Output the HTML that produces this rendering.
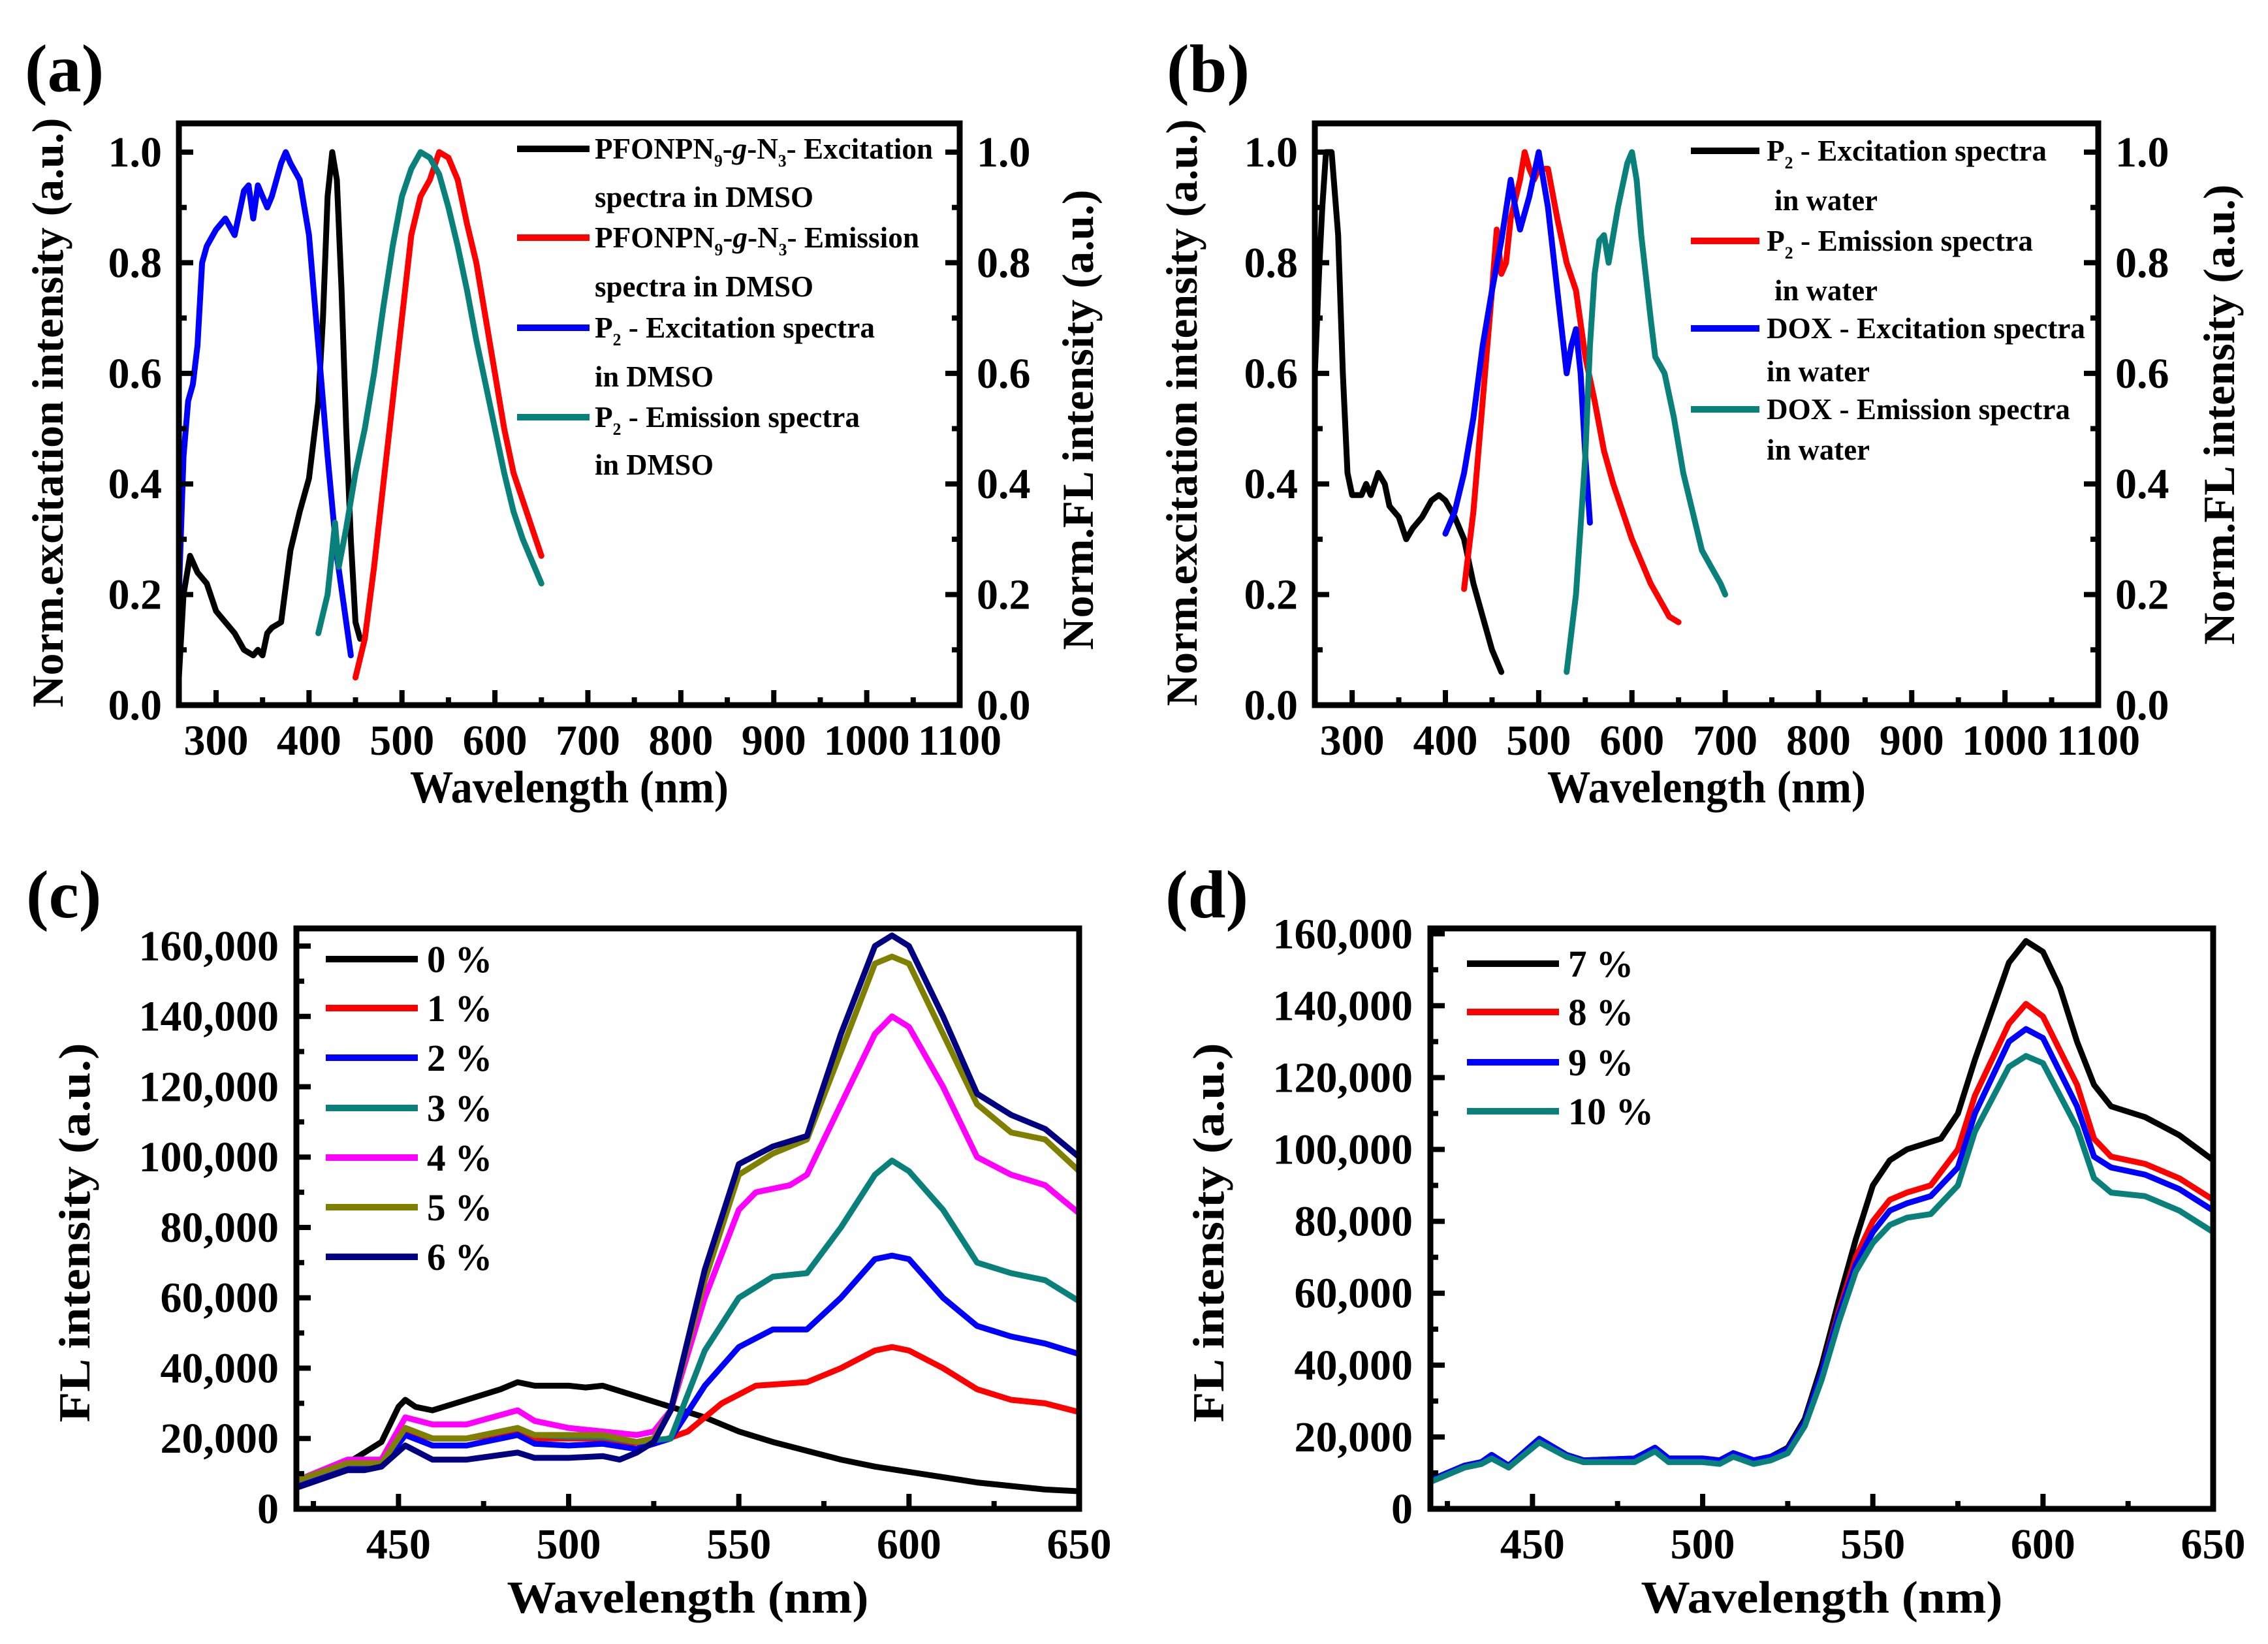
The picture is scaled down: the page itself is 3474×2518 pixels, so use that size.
<!DOCTYPE html>
<html><head><meta charset="utf-8"><style>
html,body{margin:0;padding:0;background:#fff;}
svg{display:block;font-family:"Liberation Serif","DejaVu Serif",serif;font-weight:bold;}
</style></head><body>
<svg id="fig" xmlns="http://www.w3.org/2000/svg" width="3474" height="2518" viewBox="0 0 3474 2518">
<rect x="0" y="0" width="3474" height="2518" fill="#fff"/>
</svg>
<script>
// ---------- Panel (a) data ----------
const aBlackX=[260,265,272,280,290,300,310,320,330,340,345,350,355,360,370,380,390,400,410,415,420,425,430,435,440,445,450,455];
const aBlackY=[0.05,0.2,0.27,0.24,0.22,0.17,0.15,0.13,0.1,0.09,0.1,0.09,0.13,0.14,0.15,0.28,0.35,0.41,0.55,0.7,0.92,1.0,0.95,0.75,0.5,0.3,0.15,0.12];
const aBlueX=[260,265,270,275,280,285,290,300,310,320,330,335,340,345,350,355,360,365,370,375,380,390,400,410,420,430,440,445];
const aBlueY=[0.2,0.45,0.55,0.58,0.65,0.8,0.83,0.86,0.88,0.85,0.93,0.94,0.88,0.94,0.92,0.9,0.92,0.95,0.98,1.0,0.98,0.95,0.85,0.65,0.45,0.27,0.15,0.09];
const aRedX=[450,460,470,480,490,500,510,520,530,540,550,560,570,580,590,600,610,620,630,640,650];
const aRedY=[0.05,0.12,0.25,0.4,0.55,0.7,0.85,0.92,0.95,1.0,0.99,0.95,0.87,0.8,0.7,0.6,0.5,0.42,0.37,0.32,0.27];
const aTealX=[410,420,425,428,432,440,450,460,470,480,490,500,510,520,530,540,550,560,570,580,590,600,610,620,630,640,650];
const aTealY=[0.13,0.2,0.28,0.33,0.25,0.32,0.42,0.5,0.6,0.72,0.83,0.92,0.97,1.0,0.99,0.96,0.9,0.83,0.75,0.66,0.58,0.5,0.42,0.35,0.3,0.26,0.22];
// ---------- Panel (b) data ----------
const bBlackX=[260,265,268,272,278,285,290,295,300,310,315,320,328,335,340,350,358,365,375,385,393,400,410,420,430,440,450,460];
const bBlackY=[0.6,0.8,0.9,1.0,1.0,0.85,0.6,0.42,0.38,0.38,0.4,0.38,0.42,0.4,0.36,0.34,0.3,0.32,0.34,0.37,0.38,0.37,0.34,0.3,0.22,0.16,0.1,0.06];
const bRedX=[420,430,440,450,455,460,465,470,480,485,490,495,500,510,520,530,540,550,560,570,580,590,600,610,620,630,640,650];
const bRedY=[0.21,0.35,0.55,0.75,0.86,0.78,0.8,0.88,0.95,1.0,0.97,0.95,0.97,0.97,0.88,0.8,0.75,0.63,0.55,0.46,0.4,0.35,0.3,0.26,0.22,0.19,0.16,0.15];
const bBlueX=[400,410,420,430,440,450,460,470,475,480,490,500,510,520,530,535,540,545,550,555];
const bBlueY=[0.31,0.35,0.42,0.52,0.65,0.75,0.84,0.95,0.9,0.86,0.92,1.0,0.9,0.75,0.6,0.65,0.68,0.6,0.45,0.33];
const bTealX=[530,540,550,555,560,565,570,575,580,585,595,600,605,610,620,625,635,645,655,665,675,685,695,700];
const bTealY=[0.06,0.2,0.45,0.65,0.78,0.84,0.85,0.8,0.85,0.9,0.98,1.0,0.95,0.85,0.7,0.63,0.6,0.52,0.42,0.35,0.28,0.25,0.22,0.2];
// ---------- Panel (c) data ----------
const c0X=[420,430,440,445,450,452,455,460,470,480,485,490,500,505,510,520,530,540,550,560,570,580,590,600,610,620,630,640,650];
const c0Y=[7000,10000,16000,19000,29000,31000,29000,28000,31000,34000,36000,35000,35000,34500,35000,32000,29000,26000,22000,19000,16500,14000,12000,10500,9000,7500,6500,5500,5000];
const c1X=[420,435,445,452,460,470,485,490,500,510,515,525,535,545,555,570,580,590,595,600,610,620,630,640,650];
const c1Y=[8000,13000,13000,22000,20000,20000,22000,20000,20000,20000,19000,18500,22000,30000,35000,36000,40000,45000,46000,45000,40000,34000,31000,30000,27500];
const c2X=[420,435,445,452,460,470,485,490,500,510,520,530,540,550,560,570,580,590,595,600,610,620,630,640,650];
const c2Y=[7000,12000,12000,21000,18000,18000,21000,18500,18000,18500,17000,20000,35000,46000,51000,51000,60000,71000,72000,71000,60000,52000,49000,47000,44000];
const c3X=[420,435,445,452,460,470,485,490,500,510,520,530,540,550,560,570,580,590,595,600,610,620,630,640,650];
const c3Y=[8000,13000,13000,23000,20000,20000,23000,21000,20500,20500,19000,20000,45000,60000,66000,67000,80000,95000,99000,96000,85000,70000,67000,65000,59000];
const c4X=[420,435,445,452,460,470,485,490,500,510,520,525,530,540,550,555,565,570,580,590,595,600,610,620,630,640,645,650];
const c4Y=[8000,14000,14000,26000,24000,24000,28000,25000,23000,22000,21000,22000,28000,60000,85000,90000,92000,95000,115000,135000,140000,137000,120000,100000,95000,92000,88000,84000];
const c5X=[420,435,445,452,460,470,485,490,500,510,520,525,530,540,550,560,570,580,590,595,600,610,620,630,640,650];
const c5Y=[8000,13000,13000,23000,20000,20000,23000,21000,21000,21000,19000,20000,28000,65000,95000,101000,105000,130000,155000,157000,155000,135000,115000,107000,105000,96000];
const c6X=[420,435,440,445,452,460,470,485,490,500,510,515,520,525,530,540,550,560,570,580,590,595,600,610,620,630,640,650];
const c6Y=[6000,11000,11000,12000,18000,14000,14000,16000,14500,14500,15000,14000,16000,19000,28000,68000,98000,103000,106000,135000,160000,163000,160000,140000,118000,112000,108000,100000];
// ---------- Panel (d) data ----------
const d7X=[420,430,435,438,443,452,460,465,480,486,490,500,505,509,515,520,525,530,535,540,545,550,555,560,570,575,580,590,595,600,605,610,615,620,630,640,650];
const d7Y=[8000,12000,13000,15000,12000,19500,15000,13500,14000,17000,14000,14000,13500,15500,13500,14500,17000,25000,40000,58000,75000,90000,97000,100000,103000,110000,125000,152000,158000,155000,145000,130000,118000,112000,109000,104000,97000];
const d8X=[420,430,435,438,443,452,460,465,480,486,490,500,505,509,515,520,525,530,535,540,545,550,555,560,567,575,580,590,595,600,610,615,620,630,640,650];
const d8Y=[7500,11500,12500,14500,11500,19000,14500,13000,13500,16500,13500,13500,13000,15000,13000,14000,16500,24000,38000,55000,70000,80000,86000,88000,90000,100000,115000,135000,140500,137000,118000,103000,98000,96000,92000,86000];
const d9X=d8X;
const d9Y=[8000,12000,13000,15000,12000,19500,15000,13500,14000,17000,14000,14000,13500,15500,13500,14500,16500,24000,38000,54000,68000,77000,83000,85000,87000,95000,110000,130000,133500,131000,112000,98000,95000,93000,89000,83000];
const d10X=d8X;
const d10Y=[7500,11500,12500,14000,11500,18500,14500,13000,13000,16000,13000,13000,12500,14500,12500,13500,15500,23000,36000,52000,66000,74000,79000,81000,82000,90000,105000,123000,126000,124000,106000,92000,88000,87000,83000,77000];

// ---------- tick labels ----------
const normTicks=[0,0.2,0.4,0.6,0.8,1.0];
const normTickLabels=["0.0","0.2","0.4","0.6","0.8","1.0"];
const wlTicksAB=[300,400,500,600,700,800,900,1000,1100];
const wlTicksCD=[450,500,550,600,650];
const flTicks=[0,20000,40000,60000,80000,100000,120000,140000,160000];
const flTickLabels=["0","20,000","40,000","60,000","80,000","100,000","120,000","140,000","160,000"];

const NS="http://www.w3.org/2000/svg";
const svg=document.getElementById('fig');
function el(tag,attrs,parent){const e=document.createElementNS(NS,tag);for(const k in attrs)e.setAttribute(k,attrs[k]);(parent||svg).appendChild(e);return e;}
function txt(str,x,y,size,anchor,parent,extra){const t=el('text',Object.assign({x:x,y:y,'font-size':size,'text-anchor':anchor||'start',fill:'#000'},extra||{}),parent);t.textContent=str;return t;}

function panel(cfg){
  const g=el('g',{});
  
  
  const sx=v=>cfg.L+(v-cfg.xmin)/(cfg.xmax-cfg.xmin)*(cfg.R-cfg.L);
  const sy=v=>cfg.B-(v-cfg.ymin)/(cfg.ymax-cfg.ymin)*(cfg.B-cfg.T);
  // series
  const sg=el('g',{},g);
  const cp='clip-'+cfg.id;
  const defs=el('defs',{},g);const c=el('clipPath',{id:cp},defs);
  el('rect',{x:cfg.L,y:cfg.T,width:cfg.R-cfg.L,height:cfg.B-cfg.T},c);
  sg.setAttribute('clip-path','url(#'+cp+')');
  cfg.series.forEach(s=>{
    const d=s.x.map((v,i)=>(i?'L':'M')+sx(v).toFixed(1)+','+sy(s.y[i]).toFixed(1)).join('');
    const p=el('path',{d:d,fill:'none',stroke:s.color,'stroke-width':9,'stroke-linejoin':'round','stroke-linecap':'round'},sg);
    
    
  });
  // frame
  const fr=el('rect',{x:cfg.L,y:cfg.T,width:cfg.R-cfg.L,height:cfg.B-cfg.T,fill:'none',stroke:'#000','stroke-width':9},g);
  
  
  // x ticks
  cfg.xTicks.forEach(v=>{
    el('line',{x1:sx(v),x2:sx(v),y1:cfg.B,y2:cfg.B-23,stroke:'#000','stroke-width':8},g);
    const t=txt(String(v),sx(v),cfg.B+76,66,'middle',g);
    
    
  });
  cfg.xTicks.forEach((v,i)=>{const m=v-cfg.xStep/2;if(m>cfg.xmin)el('line',{x1:sx(m),x2:sx(m),y1:cfg.B,y2:cfg.B-12,stroke:'#000','stroke-width':8},g);});
  // y ticks
  cfg.yTicks.forEach((v,i)=>{
    el('line',{x1:cfg.L,x2:cfg.L+22,y1:sy(v),y2:sy(v),stroke:'#000','stroke-width':8},g);
    const t=txt(cfg.yLabels[i],cfg.L-cfg.yLabOff,sy(v)+22,66,'end',g);
    
    
    if(cfg.right){
      el('line',{x1:cfg.R,x2:cfg.R-22,y1:sy(v),y2:sy(v),stroke:'#000','stroke-width':8},g);
      const t2=txt(cfg.yLabels[i],cfg.R+26,sy(v)+22,66,'start',g);
      
      
    }
    const m=v+cfg.yStep/2;
    if(m<cfg.ymax){
      el('line',{x1:cfg.L,x2:cfg.L+12,y1:sy(m),y2:sy(m),stroke:'#000','stroke-width':8},g);
      if(cfg.right)el('line',{x1:cfg.R,x2:cfg.R-12,y1:sy(m),y2:sy(m),stroke:'#000','stroke-width':8},g);
    }
  });
  // titles
  const xt=txt('Wavelength (nm)',(cfg.L+cfg.R)/2,cfg.xtY,70,'middle',g,{textLength:cfg.xtW,lengthAdjust:'spacingAndGlyphs'});
  
  
  const yt=txt(cfg.ytText,0,0,68,'middle',g,{transform:'translate('+cfg.ytX+','+cfg.ytY+') rotate(-90)',textLength:cfg.ytW,lengthAdjust:'spacingAndGlyphs'});
  
  
  if(cfg.right){
    const rt=txt('Norm.FL intensity (a.u.)',0,0,68,'middle',g,{transform:'translate('+cfg.rtX+','+cfg.rtY+') rotate(-90)',textLength:705,lengthAdjust:'spacingAndGlyphs'});
    
    
  }
  const pl=txt(cfg.label,cfg.plX,cfg.plY,104,'start',g);
  
  
  // legend
  cfg.legend.forEach(it=>{
    if(it.line){
      const ln=el('line',{x1:it.lx1,x2:it.lx2,y1:it.ly,y2:it.ly,stroke:it.line,'stroke-width':10},g);
      
      
    }
    const t=el('text',{x:it.tx,y:it.ty,'font-size':it.fs,fill:'#000',textLength:it.w,lengthAdjust:'spacingAndGlyphs'},g);
    t.innerHTML=it.html;
    
    
  });
}

const sub=s=>'<tspan font-size="26" dy="12">'+s+'</tspan><tspan dy="-12">';
const legA=[
 {line:'#000',lx1:792,lx2:903,ly:228,tx:911,ty:243,fs:46,w:518,html:'PFONPN'+sub('9')+'-<tspan font-style="italic">g</tspan>-N'+sub('3')+'- Excitation</tspan></tspan>'},
 {tx:911,ty:317,fs:46,w:335,html:'spectra in DMSO'},
 {line:'#ff0000',lx1:792,lx2:903,ly:364,tx:911,ty:379,fs:46,w:497,html:'PFONPN'+sub('9')+'-<tspan font-style="italic">g</tspan>-N'+sub('3')+'- Emission</tspan></tspan>'},
 {tx:911,ty:454,fs:46,w:335,html:'spectra in DMSO'},
 {line:'#0000ff',lx1:792,lx2:903,ly:502,tx:911,ty:517,fs:46,w:429,html:'P'+sub('2')+' - Excitation spectra</tspan>'},
 {tx:911,ty:592,fs:46,w:182,html:'in DMSO'},
 {line:'#0a807a',lx1:792,lx2:903,ly:639,tx:911,ty:654,fs:46,w:406,html:'P'+sub('2')+' - Emission spectra</tspan>'},
 {tx:911,ty:727,fs:46,w:182,html:'in DMSO'}
];
const legB=[
 {line:'#000',lx1:2590,lx2:2695,ly:231,tx:2706,ty:246,fs:46,w:429,html:'P'+sub('2')+' - Excitation spectra</tspan>'},
 {tx:2718,ty:322,fs:46,w:158,html:'in water'},
 {line:'#ff0000',lx1:2590,lx2:2695,ly:369,tx:2706,ty:384,fs:46,w:408,html:'P'+sub('2')+' - Emission spectra</tspan>'},
 {tx:2718,ty:460,fs:46,w:158,html:'in water'},
 {line:'#0000ff',lx1:2590,lx2:2695,ly:503,tx:2706,ty:518,fs:46,w:488,html:'DOX - Excitation spectra'},
 {tx:2706,ty:584,fs:46,w:158,html:'in water'},
 {line:'#0a807a',lx1:2590,lx2:2695,ly:627,tx:2706,ty:642,fs:46,w:465,html:'DOX - Emission spectra'},
 {tx:2706,ty:704,fs:46,w:158,html:'in water'}
];
const cCols=['#000','#ff0000','#0000ff','#0a807a','#ff00ff','#808000','#000080'];
const cNames=['0 %','1 %','2 %','3 %','4 %','5 %','6 %'];
const cLineY=[1469,1544,1620,1697,1773,1849,1925];
const legC=cNames.map((n,i)=>({line:cCols[i],lx1:499,lx2:640,ly:cLineY[i],tx:654,ty:cLineY[i]+20,fs:58,w:100,html:n}));
const dCols=['#000','#ff0000','#0000ff','#0a807a'];
const dNames=['7 %','8 %','9 %','10 %'];
const dLineY=[1476,1550,1627,1702];
const legD=dNames.map((n,i)=>({line:dCols[i],lx1:2247,lx2:2388,ly:dLineY[i],tx:2402,ty:dLineY[i]+20,fs:58,w:(n.length>3?131:100),html:n}));

panel({id:'a',name:'panel-a-chart',label:'(a)',plX:38,plY:140,L:274,R:1470,T:189,B:1080,xmin:260,xmax:1100,ymin:0,ymax:1.052,
 xTicks:wlTicksAB,xStep:100,yTicks:normTicks,yLabels:normTickLabels,yStep:0.2,yLabOff:26,right:true,
 xtY:1229,xtW:488,ytText:'Norm.excitation intensity (a.u.)',ytX:96,ytY:632,ytW:903,rtX:1674,rtY:643,
 series:[{name:'pfonpn-excitation-line',x:aBlackX,y:aBlackY,color:'#000'},{name:'pfonpn-emission-line',x:aRedX,y:aRedY,color:'#ff0000'},
 {name:'p2-excitation-line',x:aBlueX,y:aBlueY,color:'#0000ff'},{name:'p2-emission-line',x:aTealX,y:aTealY,color:'#0a807a'}],legend:legA});
panel({id:'b',name:'panel-b-chart',label:'(b)',plX:1787,plY:140,L:2014,R:3214,T:189,B:1080,xmin:260,xmax:1100,ymin:0,ymax:1.052,
 xTicks:wlTicksAB,xStep:100,yTicks:normTicks,yLabels:normTickLabels,yStep:0.2,yLabOff:26,right:true,
 xtY:1229,xtW:488,ytText:'Norm.excitation intensity (a.u.)',ytX:1833,ytY:632,ytW:899,rtX:3422,rtY:635,
 series:[{name:'p2-water-excitation-line',x:bBlackX,y:bBlackY,color:'#000'},{name:'p2-water-emission-line',x:bRedX,y:bRedY,color:'#ff0000'},
 {name:'dox-excitation-line',x:bBlueX,y:bBlueY,color:'#0000ff'},{name:'dox-emission-line',x:bTealX,y:bTealY,color:'#0a807a'}],legend:legB});
const cX=[c0X,c1X,c2X,c3X,c4X,c5X,c6X], cY=[c0Y,c1Y,c2Y,c3Y,c4Y,c5Y,c6Y];
panel({id:'c',name:'panel-c-chart',label:'(c)',plX:40,plY:1405,L:454,R:1653,T:1422,B:2311,xmin:420,xmax:650,ymin:0,ymax:165000,
 xTicks:wlTicksCD,xStep:50,yTicks:flTicks,yLabels:flTickLabels,yStep:20000,yLabOff:27,right:false,
 xtY:2470,xtW:554,ytText:'FL intensity (a.u.)',ytX:137,ytY:1888,ytW:581,
 series:cX.map((x,i)=>({name:'series-'+i+'-percent',x:x,y:cY[i],color:cCols[i]})),legend:legC});
const dX=[d7X,d8X,d9X,d10X], dY=[d7Y,d8Y,d9Y,d10Y];
panel({id:'d',name:'panel-d-chart',label:'(d)',plX:1785,plY:1405,L:2191,R:3390,T:1422,B:2311,xmin:420,xmax:650,ymin:0,ymax:161500,
 xTicks:wlTicksCD,xStep:50,yTicks:flTicks,yLabels:flTickLabels,yStep:20000,yLabOff:27,right:false,
 xtY:2470,xtW:554,ytText:'FL intensity (a.u.)',ytX:1874,ytY:1888,ytW:581,
 series:dX.map((x,i)=>({name:'series-'+(i+7)+'-percent',x:x,y:dY[i],color:dCols[i]})),legend:legD});
</script>
</body></html>
